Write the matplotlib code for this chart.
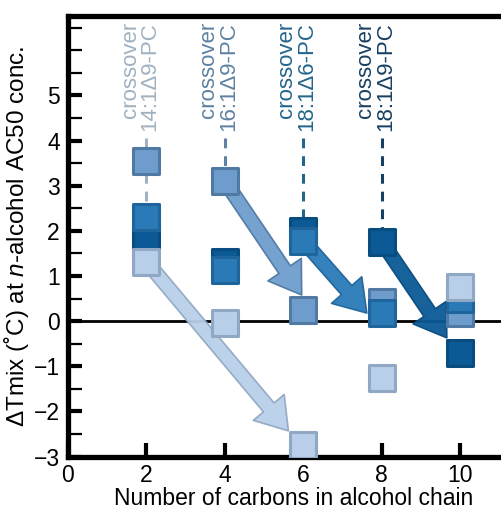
import matplotlib
matplotlib.use("Agg")
import matplotlib.pyplot as plt
from matplotlib.patches import FancyArrowPatch
from matplotlib.ticker import MultipleLocator

plt.rcParams['font.family'] = ['Liberation Sans', 'DejaVu Sans']
plt.rcParams['mathtext.fontset'] = 'custom'
plt.rcParams['mathtext.rm'] = 'Liberation Sans'
plt.rcParams['mathtext.it'] = 'Liberation Sans:italic'

# datos
carbons = [2, 4, 6, 8, 10]
lipids = ['14:1Δ9-PC', '16:1Δ9-PC', '18:1Δ6-PC', '18:1Δ9-PC']
dT_14_1 = [1.32, -0.05, -2.75, -1.25, 0.75]
dT_16_1 = [3.55, 3.10, 0.25, 0.42, 0.18]
dT_18_1d6 = [2.31, 1.13, 1.78, 0.18, 0.50]
dT_18_1d9 = [1.87, 1.32, 2.00, 1.76, -0.70]
series = [dT_14_1, dT_16_1, dT_18_1d6, dT_18_1d9]

crossover_x = [2, 4, 6, 8]
crossover_y = [2.31, 3.10, 2.00, 1.76]
arrow_start = [(2, 1.32), (4, 3.10), (6, 1.78), (8, 1.76)]
arrow_end = [(5.62, -2.43), (5.96, 0.58), (7.62, 0.18), (9.66, -0.37)]

# colores
fills = ['#b9cfe9', '#6e9dcd', '#2a7ab8', '#0b5a96']
edges = ['#91a8c4', '#5079a4', '#1f659c', '#094c80']
text_cols = ['#a0b1c0', '#5e82a2', '#24658c', '#173f62']
zorders = [6, 3, 5, 4]

fig = plt.figure(figsize=(5.01, 5.09), dpi=100)
ax = fig.add_axes([0.1357, 0.103, 0.9002, 0.8646])

ax.axhline(0, color='black', lw=2.0, zorder=1)

# lineas discontinuas del crossover
for i in range(4):
    ax.plot([crossover_x[i], crossover_x[i]], [4.05, crossover_y[i]],
            color=text_cols[i], lw=2.2, dashes=(3.2, 2.6), zorder=1.5)
    ax.text(crossover_x[i] - 0.16, 6.63, 'crossover\n' + lipids[i],
            rotation=90, ha='center', va='top', multialignment='right',
            fontsize=16, color=text_cols[i], linespacing=0.95, zorder=7)

# flechas
for i in range(4):
    arr = FancyArrowPatch(arrow_start[i], arrow_end[i],
                          arrowstyle='simple,head_length=2.2,head_width=2.9,tail_width=1.0',
                          mutation_scale=10, shrinkA=0, shrinkB=0,
                          facecolor=fills[i], edgecolor=edges[i], lw=1.2,
                          alpha=0.95, zorder=2)
    ax.add_patch(arr)

# puntos
for i in range(4):
    ax.scatter(carbons, series[i], marker='s', s=340, facecolor=fills[i],
               edgecolor=edges[i], linewidths=2.2, zorder=zorders[i])

ax.set_xlim(0, 11.5)
ax.set_ylim(-3, 6.75)
ax.set_xticks([0, 2, 4, 6, 8, 10])
ax.set_yticks(range(-3, 6))
ax.yaxis.set_minor_locator(MultipleLocator(0.5))

for s in ['left', 'top', 'bottom', 'right']:
    ax.spines[s].set_linewidth(3.8)

ax.tick_params(axis='both', direction='in', which='major', length=10, width=3,
               labelsize=16.5, pad=6)
ax.tick_params(axis='y', which='minor', direction='in', length=10, width=1.6)
ax.tick_params(axis='x', pad=5)

ax.set_xlabel('Number of carbons in alcohol chain', fontsize=16.5, labelpad=0)
ax.set_ylabel(r'ΔTmix (˚C) at $\it{n}$-alcohol AC50 conc.', fontsize=17.5, labelpad=2)

fig.savefig('out.png', dpi=100)
